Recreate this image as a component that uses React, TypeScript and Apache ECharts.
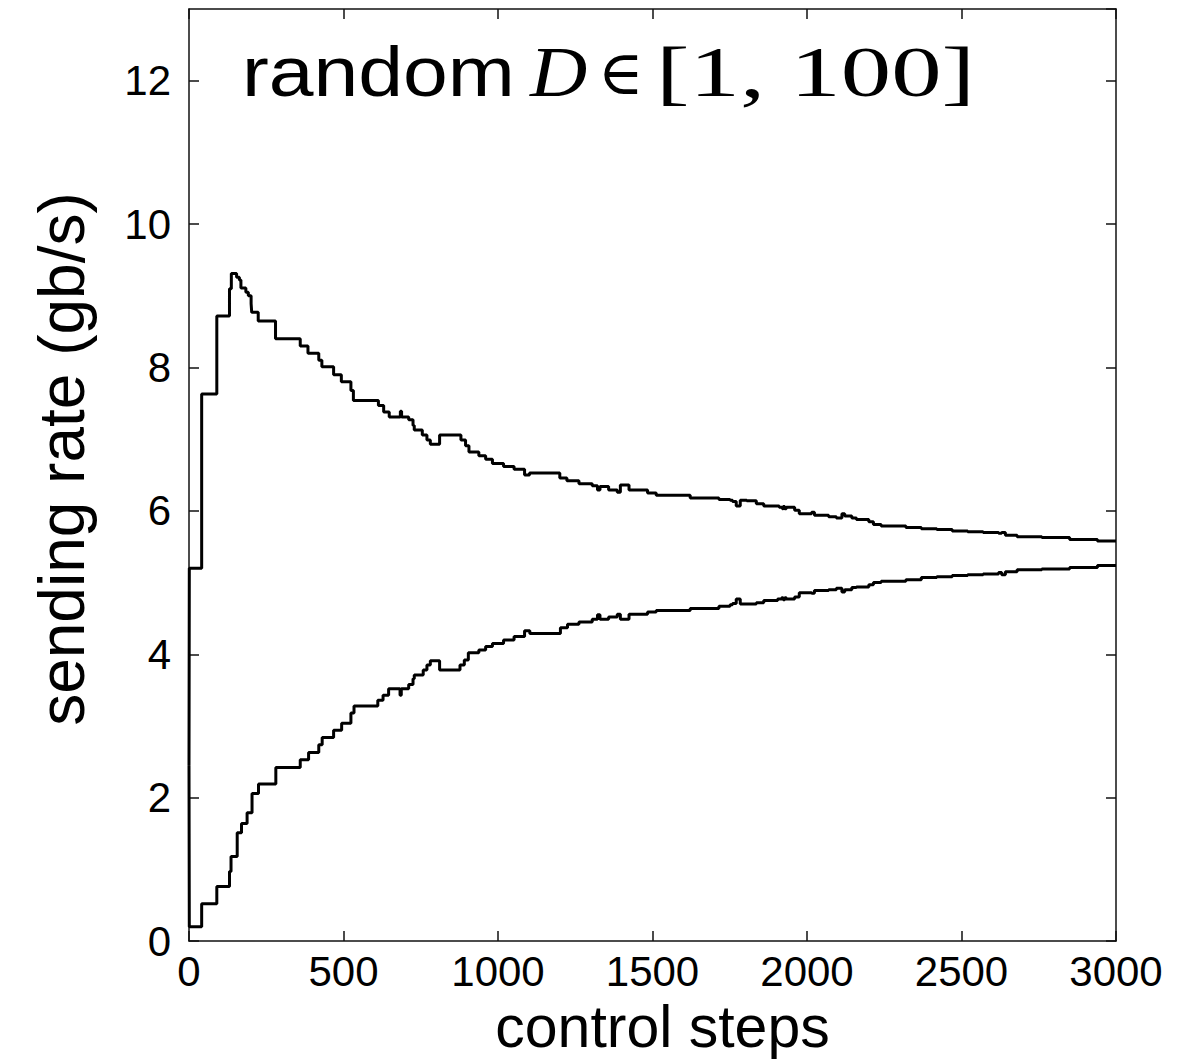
import React, { useEffect, useRef } from "react";
import * as echarts from "echarts";

// axis ranges
const X_MIN = 0;
const X_MAX = 3000;
const X_STEP = 500;
const Y_MIN = 0;
const Y_MAX = 13;
const Y_STEP = 2;

const X_NAME = "control steps";
const Y_NAME = "sending rate (gb/s)";
const TITLE_WORD = "random";
const TITLE_VAR = "D";
const TITLE_IN = "∈";
const TITLE_SET = "[1, 100]";

// [control step where the level starts, sending rate]
const upperSteps: [number, number][] = [
  [0, 2.45], [1, 5.2], [41, 7.63], [90, 8.72], [131, 9.1], [137, 9.31], [154, 9.26], [163, 9.22],
  [168, 9.11], [184, 9.05], [192, 9.0], [201, 8.89], [203, 8.77], [224, 8.65], [280, 8.4], [360, 8.3],
  [385, 8.2], [420, 8.1], [430, 8.01], [468, 7.9], [493, 7.8], [524, 7.68], [532, 7.54], [613, 7.47],
  [630, 7.38], [648, 7.31], [684, 7.39], [688, 7.31], [711, 7.27], [725, 7.19], [729, 7.13], [755, 7.06],
  [770, 6.99], [781, 6.93], [811, 7.06], [880, 6.99], [895, 6.91], [906, 6.82], [938, 6.77], [960, 6.72],
  [982, 6.66], [1018, 6.62], [1052, 6.58], [1086, 6.5], [1102, 6.53], [1200, 6.46], [1223, 6.42],
  [1262, 6.38], [1305, 6.35], [1322, 6.29], [1330, 6.34], [1358, 6.29], [1386, 6.26], [1396, 6.36],
  [1424, 6.29], [1484, 6.25], [1512, 6.22], [1622, 6.18], [1715, 6.16], [1751, 6.15], [1759, 6.13],
  [1771, 6.07], [1784, 6.15], [1805, 6.14], [1836, 6.1], [1860, 6.07], [1910, 6.05], [1920, 6.03],
  [1923, 6.06], [1928, 6.03], [1933, 6.05], [1960, 6.01], [1975, 5.96], [2015, 5.98], [2024, 5.94],
  [2070, 5.92], [2095, 5.9], [2113, 5.96], [2122, 5.93], [2145, 5.9], [2160, 5.88], [2200, 5.85],
  [2215, 5.81], [2240, 5.79], [2320, 5.77], [2370, 5.75], [2420, 5.74], [2470, 5.72], [2520, 5.71],
  [2570, 5.7], [2620, 5.69], [2630, 5.7], [2642, 5.66], [2680, 5.64], [2760, 5.63], [2850, 5.6],
  [2940, 5.58], [3000, 5.58],
];

const lowerSteps: [number, number][] = [
  [0, 2.45], [1, 0.2], [41, 0.52], [90, 0.76], [131, 0.97], [136, 1.18], [156, 1.51], [170, 1.64],
  [188, 1.79], [204, 2.06], [225, 2.19], [281, 2.42], [360, 2.53], [387, 2.63], [420, 2.74], [431, 2.84],
  [468, 2.94], [494, 3.04], [524, 3.18], [534, 3.28], [611, 3.36], [628, 3.43], [646, 3.52], [683, 3.43],
  [687, 3.52], [711, 3.58], [725, 3.66], [729, 3.71], [758, 3.78], [770, 3.85], [781, 3.91], [811, 3.78],
  [877, 3.85], [891, 3.92], [904, 4.02], [938, 4.06], [960, 4.11], [982, 4.15], [1018, 4.2], [1052, 4.25],
  [1086, 4.33], [1103, 4.29], [1202, 4.37], [1225, 4.42], [1262, 4.45], [1305, 4.49], [1322, 4.55],
  [1330, 4.49], [1358, 4.52], [1386, 4.56], [1396, 4.49], [1424, 4.56], [1484, 4.59], [1512, 4.61],
  [1622, 4.64], [1715, 4.67], [1751, 4.69], [1759, 4.71], [1771, 4.77], [1784, 4.7], [1836, 4.72],
  [1860, 4.75], [1905, 4.77], [1918, 4.79], [1923, 4.76], [1928, 4.79], [1933, 4.77], [1960, 4.8],
  [1975, 4.86], [2015, 4.85], [2024, 4.89], [2070, 4.9], [2095, 4.92], [2113, 4.87], [2122, 4.9],
  [2145, 4.93], [2160, 4.94], [2200, 4.97], [2215, 5.0], [2240, 5.02], [2320, 5.04], [2370, 5.07],
  [2420, 5.08], [2470, 5.1], [2520, 5.11], [2570, 5.12], [2620, 5.14], [2630, 5.11], [2642, 5.15],
  [2680, 5.18], [2760, 5.19], [2850, 5.21], [2940, 5.24], [3000, 5.24],
];

const SANS = '"Liberation Sans", Arial, Helvetica, sans-serif';
const SERIF = '"Liberation Serif", "DejaVu Serif", serif';

export default function App() {
  const ref = useRef<HTMLDivElement>(null);

  useEffect(() => {
    if (!ref.current) return;
    const chart = echarts.init(ref.current, null, { renderer: "svg" });

    const lineAxis = { show: true, onZero: false, lineStyle: { color: "#111", width: 1.5 } };
    const tick = { show: true, inside: true, length: 10, lineStyle: { color: "#111", width: 1.5 } };

    const titleText = (text: string, x: number, scaleX: number, font: string, size: number, italic = false) => ({
      type: "text",
      x,
      y: 72,
      scaleX,
      silent: true,
      style: {
        text,
        fill: "#000",
        fontSize: size,
        fontFamily: font,
        fontStyle: italic ? "italic" : "normal",
        align: "left",
        textAlign: "left",
        verticalAlign: "middle",
        textVerticalAlign: "middle",
      },
    });

    chart.setOption({
      animation: false,
      backgroundColor: "#ffffff",
      grid: { left: 189, right: 63, top: 9, bottom: 118, containLabel: false },
      xAxis: [
        {
          type: "value",
          min: X_MIN,
          max: X_MAX,
          interval: X_STEP,
          position: "bottom",
          axisLine: lineAxis,
          axisTick: tick,
          splitLine: { show: false },
          axisLabel: {
            color: "#000",
            fontSize: 42,
            fontFamily: SANS,
            margin: 9,
            formatter: (v: number) => String(v),
          },
          name: X_NAME,
          nameLocation: "middle",
          nameGap: 52,
          nameTextStyle: { color: "#000", fontSize: 59, fontFamily: SANS, padding: [0, 0, 0, 20] },
        },
        {
          type: "value",
          min: X_MIN,
          max: X_MAX,
          interval: X_STEP,
          position: "top",
          axisLine: lineAxis,
          axisTick: tick,
          splitLine: { show: false },
          axisLabel: { show: false },
        },
      ],
      yAxis: [
        {
          type: "value",
          min: Y_MIN,
          max: Y_MAX,
          interval: Y_STEP,
          position: "left",
          axisLine: lineAxis,
          axisTick: tick,
          splitLine: { show: false },
          axisLabel: {
            color: "#000",
            fontSize: 42,
            fontFamily: SANS,
            margin: 18,
            showMaxLabel: false,
            formatter: (v: number) => (v > 12 ? "" : String(v)),
          },
          name: Y_NAME,
          nameLocation: "middle",
          nameGap: 95,
          nameTextStyle: { color: "#000", fontSize: 64, fontFamily: SANS, padding: [0, 0, 0, 32] },
        },
        {
          type: "value",
          min: Y_MIN,
          max: Y_MAX,
          interval: Y_STEP,
          position: "right",
          axisLine: lineAxis,
          axisTick: tick,
          splitLine: { show: false },
          axisLabel: { show: false },
        },
      ],
      graphic: [
        titleText(TITLE_WORD, 242, 1.15, SANS, 70),
        titleText(TITLE_VAR, 530, 1.1, SERIF, 72, true),
        titleText(TITLE_IN, 598, 1.0, '"DejaVu Serif", serif', 62),
        titleText(TITLE_SET, 656, 1.4, SERIF, 72),
      ],
      series: [
        {
          type: "line",
          step: "end",
          xAxisIndex: 0,
          yAxisIndex: 0,
          data: upperSteps,
          showSymbol: false,
          symbol: "none",
          lineStyle: { color: "#000", width: 3 },
          silent: true,
        },
        {
          type: "line",
          step: "end",
          xAxisIndex: 0,
          yAxisIndex: 0,
          data: lowerSteps,
          showSymbol: false,
          symbol: "none",
          lineStyle: { color: "#000", width: 3 },
          silent: true,
        },
      ],
    });

    return () => chart.dispose();
  }, []);

  return (
    <div
      ref={ref}
      style={{ position: "absolute", left: 0, top: 0, width: 1179, height: 1061, background: "#fff" }}
    />
  );
}
